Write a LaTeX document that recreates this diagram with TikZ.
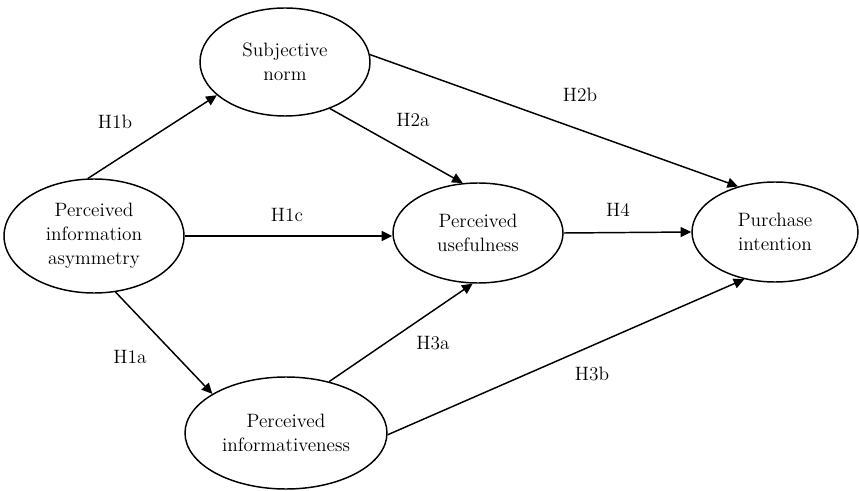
\documentclass[tikz,border=0pt]{standalone}
\usetikzlibrary{arrows.meta, shapes.geometric}
\tikzset{
  every picture/.style={line width=1.1pt},
  construct/.style n args={2}{draw, ellipse, inner sep=0pt, align=center,
    minimum width=#1, minimum height=#2, font=\fontsize{14.5}{18}\selectfont},
  arrow/.style={-{Triangle[length=8pt, width=7.5pt]}},
  hyp/.style={font=\fontsize{14.5}{18}\selectfont},
}
\begin{document}
\begin{tikzpicture}[x=0.75pt, y=-0.75pt]
  \useasboundingbox (0,0) rectangle (859,491);
  % constructs
  \node[construct={170pt*0.75}{108pt*0.75}] (sn) at (285,62) {Subjective\\norm};
  \node[construct={180pt*0.75}{114pt*0.75}] (pia) at (94,236) {Perceived\\information\\asymmetry};
  \node[construct={170pt*0.75}{100pt*0.75}] (pu) at (478,233) {Perceived\\usefulness};
  \node[construct={166pt*0.75}{100pt*0.75}] (pi) at (775,232) {Purchase\\intention};
  \node[construct={202pt*0.75}{112pt*0.75}] (pinf) at (286,433) {Perceived\\informativeness};
  % paths
  \draw[arrow] (pia.96) -- (sn.206);
  \draw[arrow] (pia.east) -- (pia.east -| pu.west);
  \draw[arrow] (pia.-69) -- (pinf.152);
  \draw[arrow] (sn.-46) -- (pu.107);
  \draw[arrow] (sn.5) -- (pi.129);
  \draw[arrow] (pu.east) -- (pi.west);
  \draw[arrow] (pinf.50) -- (pu.264);
  \draw[arrow] (pinf.-1) -- (pi.237);
  % hypotheses
  \foreach \x/\y/\t in {115/122/H1b, 287/215/H1c, 130/357/H1a, 413/120/H2a,
      580/95/H2b, 618/210/H4, 433/343/H3a, 592/374/H3b}
    \node[hyp] (\t) at (\x,\y) {\t};
\end{tikzpicture}
\end{document}
